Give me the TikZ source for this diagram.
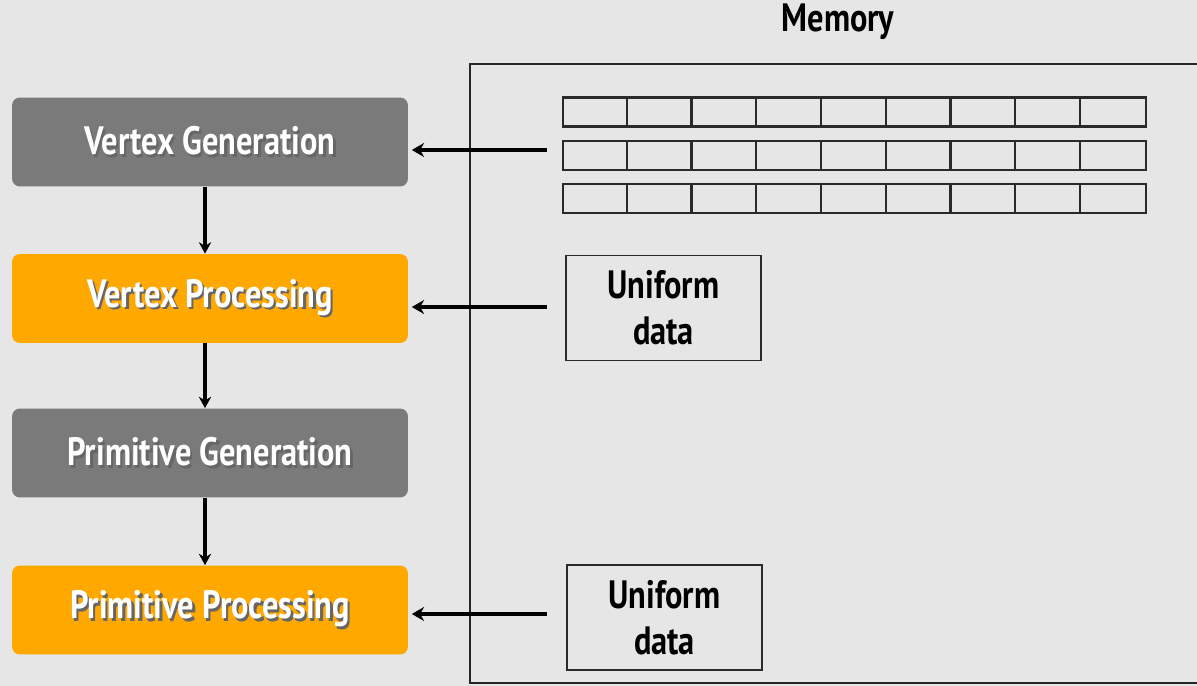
\documentclass[tikz,border=0pt]{standalone}
\usepackage{fontspec}
\setmainfont[FakeStretch=0.82]{PT Sans}
\usetikzlibrary{arrows.meta}
\definecolor{bgc}{HTML}{E6E6E6}
\definecolor{stagegray}{HTML}{7A7A7A}
\definecolor{stageorange}{HTML}{FFA800}
\definecolor{cellline}{HTML}{2A2A2A}
% white caption with a soft dark drop shadow behind it
\newcommand\dropshadowed[1]{\leavevmode\rlap{\kern1.3pt\raisebox{-1.5pt}{\color{black!60}#1}}#1}
\tikzset{
  stage/.style={rounded corners=4.5pt, minimum width=7.92cm, minimum height=1.78cm,
    text=white, font=\fontsize{22.5}{26}\selectfont\bfseries, inner sep=0pt},
  grayst/.style={stage, fill=stagegray},
  orangest/.style={stage, fill=stageorange},
  memrow/.style={draw=cellline, line width=1.3pt, minimum width=11.66cm, minimum height=0.58cm, inner sep=0pt},
  unibox/.style={draw=cellline, line width=1.1pt, fill=bgc, minimum width=3.9cm, minimum height=2.1cm,
    align=center, font=\fontsize{22.5}{26}\selectfont\bfseries, inner sep=0pt},
  flow/.style={line width=2.3pt, -{Stealth[length=6.5pt,width=7pt]}},
  feed/.style={line width=2.8pt, -{Stealth[length=7pt,width=8pt]}, shorten >=2pt},
}
\begin{document}
\begin{tikzpicture}[x=0.02cm, y=-0.02cm]
  \useasboundingbox (0,0) rectangle (1197,686);
  \fill[bgc] (0,0) rectangle (1197,686);
  \clip (0,0) rectangle (1197,686);

  % memory region
  \node[font=\fontsize{22.5}{26}\selectfont\bfseries] (memtitle) at (838,22) {Memory};
  \draw[line width=0.8pt, black!85] (1210,64) -- (470,64) -- (470,683) -- (1210,683);

  % vertex buffer rows, nine cells each
  \foreach \r/\yy in {rowa/112, rowb/155.5, rowc/198.5} {
    \node[memrow] (\r) at (854.5,\yy) {};
    \foreach \k in {1,...,8}
      \draw[cellline, line width=1.3pt] ([xshift=\k*1.2956cm]\r.north west) -- ([xshift=\k*1.2956cm]\r.south west);
  }

  \node[unibox] (unia) at (663.5,308) {Uniform\\data};
  \node[unibox] (unib) at (664.5,617.5) {Uniform\\data};

  % pipeline stages
  \node[grayst]   (vg) at (210,142)   {\dropshadowed{Vertex Generation}};
  \node[orangest] (vp) at (210,298.5) {\dropshadowed{Vertex Processing}};
  \node[grayst]   (pg) at (210,453)   {\dropshadowed{Primitive Generation}};
  \node[orangest] (pp) at (210,610)   {\dropshadowed{Primitive Processing}};

  \draw[flow] ([xshift=-0.1cm]vg.south) -- ([xshift=-0.1cm]vp.north);
  \draw[flow] ([xshift=-0.1cm]vp.south) -- ([xshift=-0.1cm]pg.north);
  \draw[flow] ([xshift=-0.1cm]pg.south) -- ([xshift=-0.1cm]pp.north);

  % data fed from memory into the stages
  \coordinate (fa) at (547,150);
  \coordinate (fb) at (547,307);
  \coordinate (fc) at (547,614);
  \draw[feed] (fa) -- (fa -| vg.east);
  \draw[feed] (fb) -- (fb -| vp.east);
  \draw[feed] (fc) -- (fc -| pp.east);
\end{tikzpicture}
\end{document}
